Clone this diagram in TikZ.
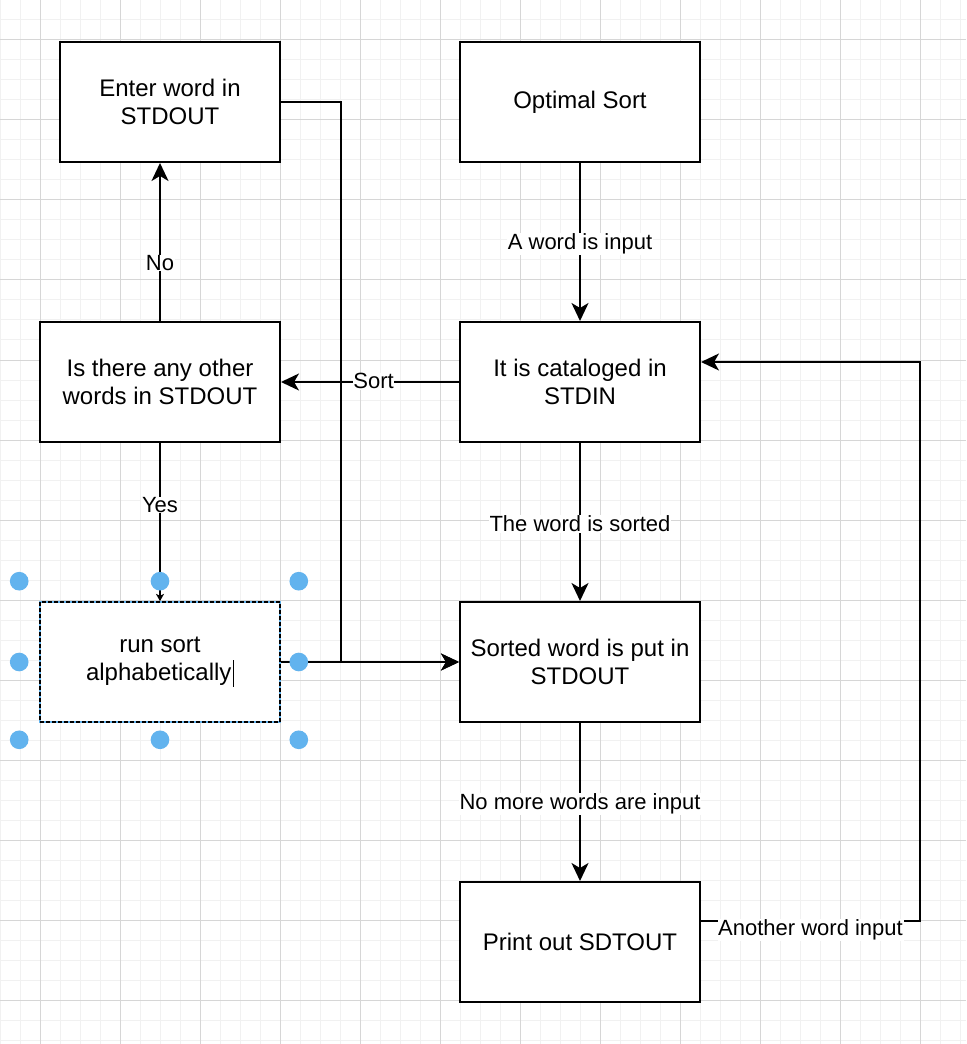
\documentclass[tikz,border=0pt]{standalone}
\usepackage{fontspec}
\setmainfont{Liberation Sans}
\usetikzlibrary{arrows.meta,calc}
\definecolor{gridminor}{HTML}{F1F1F1}
\definecolor{gridmajor}{HTML}{D6D6D6}
\definecolor{selblue}{HTML}{62B3EE}

\begin{document}
\begin{tikzpicture}[x=0.75pt,y=-0.75pt,
  box/.style={draw,line width=1.5pt,fill=white,minimum width=180pt,minimum height=90pt,align=center,font=\fontsize{18}{21}\selectfont},
  runbox/.style={box,line width=1.2pt,draw=selblue,postaction={draw=black,dash pattern=on 3pt off 1.5pt}},
  lbl/.style={fill=white,inner sep=0.5pt,yshift=-1.5pt,font=\fontsize{16.5}{19}\selectfont},
  arr/.style={line width=1.5pt,-{Stealth[length=13.5pt,width=12.75pt,inset=3.75pt]}},
  handle/.style={fill=selblue}]
\fill[white](0,0)rectangle(966,1044);
\useasboundingbox(0,0)rectangle(966,1044);
% grid
\foreach \i in {0,20,...,960}\draw[gridminor,line width=0.75pt](\i,0)--(\i,1044);
\foreach \j in {0,20,...,1040}\draw[gridminor,line width=0.75pt](0,\j)--(966,\j);
\foreach \i in {40,120,...,920}\draw[gridmajor,line width=0.75pt](\i,0)--(\i,1044);
\foreach \j in {40,120,...,1000}\draw[gridmajor,line width=0.75pt](0,\j)--(966,\j);
% boxes
\node[box,minimum width=165pt](enter)at(170,102){Enter word in\\STDOUT};
\node[box](other)at(160,382){Is there any other\\words in STDOUT};
\node[runbox](runsort)at(160,662){run sort\\alphabetically\kern1pt\rule[-4.5pt]{0.9pt}{20pt}};
\node[box](optimal)at(580,102){Optimal Sort};
\node[box](catalog)at(580,382){It is cataloged in\\STDIN};
\node[box](sorted)at(580,662){Sorted word is put in\\STDOUT};
\node[box](print)at(580,942){Print out SDTOUT};
\coordinate(bend)at(341,102);
\coordinate(loopout)at(920,921);
\coordinate(loopin)at(920,362);
% connectors
\draw[arr](optimal)--node[lbl]{A word is input}(catalog);
\draw[arr](catalog)--node[lbl,pos=0.48,yshift=2pt]{Sort}(other);
\draw[arr](other.north)--node[lbl,pos=0.38]{No}(other.north|-enter.south);
\draw[line width=1.5pt,-{Stealth[length=5.5pt,width=6pt,inset=1.5pt]}](other)--node[lbl,pos=0.38]{Yes}(runsort);
\draw[arr](enter.east)--(bend)|-(sorted.west);
\draw[arr](runsort.east)--(sorted.west);
\draw[arr](catalog)--node[lbl]{The word is sorted}(sorted);
\draw[arr](sorted)--node[lbl]{No more words are input}(print);
\draw[arr](print.east|-loopout)--node[lbl,yshift=-5pt]{Another word input}(loopout)--(loopin)--(catalog.east|-loopin);
% selection handles
\foreach \a/\dx/\dy in {north west/-20/-20,north/0/-20,north east/18/-20,west/-20/0,east/18/0,south west/-20/17,south/0/17,south east/18/17}
  \fill[handle]($(runsort.\a)+(\dx,\dy)$)circle(7pt);
\end{tikzpicture}
\end{document}
